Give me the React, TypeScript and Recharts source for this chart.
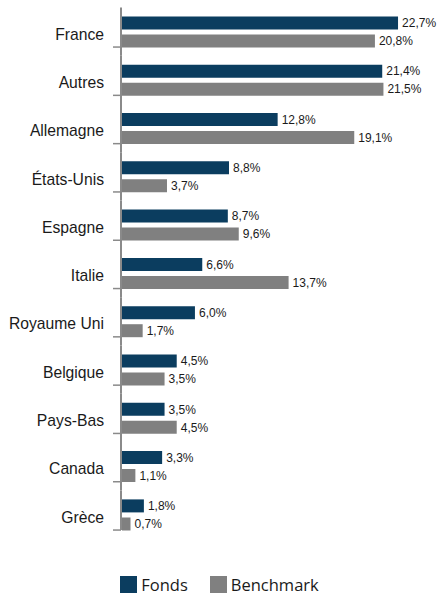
import { BarChart, Bar, XAxis, YAxis, Legend, LabelList } from "recharts";

const countries = [
  "France",
  "Autres",
  "Allemagne",
  "États-Unis",
  "Espagne",
  "Italie",
  "Royaume Uni",
  "Belgique",
  "Pays-Bas",
  "Canada",
  "Grèce"
];
const fonds = [22.7, 21.4, 12.8, 8.8, 8.7, 6.6, 6.0, 4.5, 3.5, 3.3, 1.8];
const benchmark = [20.8, 21.5, 19.1, 3.7, 9.6, 13.7, 1.7, 3.5, 4.5, 1.1, 0.7];
const seriesNames = ["Fonds", "Benchmark"];
const xTicks = [0, 10, 20];

const W = 439;
const H = 597;
const TOP = 7.4;
const BAND = 48.3;
const PLOT_H = BAND * countries.length;
const NAVY = "#0b3d5f";
const GREY = "#808080";
const AXIS = "#8a8a8a";
const FONT = "'Liberation Sans', Arial, sans-serif";

const data = countries.map((c, i) => ({
  name: c,
  fonds: fonds[i],
  benchmark: benchmark[i]
}));

const fmt = (v: number) => v.toFixed(1).replace(".", ",") + "%";

function CountryTick(props: any) {
  const { x, y, payload, index } = props;
  const last = index === countries.length - 1;
  const half = BAND / 2;
  return (
    <g>
      <line
        x1={x - 1}
        x2={x - 1}
        y1={y - half}
        y2={last ? y + 15.5 : y + half}
        stroke={AXIS}
        strokeWidth={2}
      />
      <line x1={x - 9} x2={x - 1} y1={y + 15.5} y2={y + 15.5} stroke={AXIS} strokeWidth={1.5} />
      <text
        x={x - 18}
        y={y + 2.5}
        dy="0.355em"
        textAnchor="end"
        fontSize={15.7}
        fontFamily={FONT}
        fill="#1a1a1a"
      >
        {payload.value}
      </text>
    </g>
  );
}

function PctTick(props: any) {
  const { x, y, index } = props;
  if (index === 0) return <g />;
  return <rect x={x - 0.5} y={y - 9.5} width={1} height={2} fill="#a8a8a8" />;
}

function LegendContent(props: any) {
  const items = [...(props.payload || [])].sort(
    (a: any, b: any) => seriesNames.indexOf(a.value) - seriesNames.indexOf(b.value)
  );
  return (
    <div
      style={{
        display: "flex",
        justifyContent: "center",
        alignItems: "center",
        gap: 22,
        fontFamily: "'Open Sans', sans-serif",
        fontSize: 16.5,
        color: "#1a1a1a"
      }}
    >
      {items.map((it: any) => (
        <div key={it.value} style={{ display: "flex", alignItems: "center" }}>
          <span
            style={{
              display: "inline-block",
              width: 17,
              height: 17,
              background: it.color,
              marginRight: 4
            }}
          />
          <span style={{ lineHeight: "17px" }}>{it.value}</span>
        </div>
      ))}
    </div>
  );
}

export default function App() {
  return (
    <div style={{ position: "absolute", left: 0, top: 0, width: W, height: H, background: "#fff" }}>
      <BarChart
        width={W}
        height={H}
        data={data}
        layout="vertical"
        barSize={13}
        barGap={5}
        margin={{ top: TOP, right: 13, bottom: H - TOP - PLOT_H, left: 0 }}
      >
        <XAxis
          type="number"
          domain={[0, 25]}
          ticks={xTicks}
          height={0}
          axisLine={false}
          tickLine={false}
          tickSize={0}
          tickMargin={0}
          tick={<PctTick />}
        />
        <YAxis
          type="category"
          dataKey="name"
          width={122}
          axisLine={false}
          tickLine={false}
          tickSize={0}
          tickMargin={0}
          interval={0}
          tick={<CountryTick />}
        />
        <Legend
          verticalAlign="middle"
          align="center"
          wrapperStyle={{ top: 576, left: 0, width: W }}
          content={<LegendContent />}
        />
        <Bar dataKey="fonds" name={seriesNames[0]} fill={NAVY} isAnimationActive={false}>
          <LabelList
            dataKey="fonds"
            position="right"
            offset={4}
            formatter={(v: any) => fmt(Number(v))}
            style={{ fontSize: 12, fontFamily: FONT, fill: "#1a1a1a" }}
          />
        </Bar>
        <Bar dataKey="benchmark" name={seriesNames[1]} fill={GREY} isAnimationActive={false}>
          <LabelList
            dataKey="benchmark"
            position="right"
            offset={4}
            formatter={(v: any) => fmt(Number(v))}
            style={{ fontSize: 12, fontFamily: FONT, fill: "#1a1a1a" }}
          />
        </Bar>
      </BarChart>
    </div>
  );
}
